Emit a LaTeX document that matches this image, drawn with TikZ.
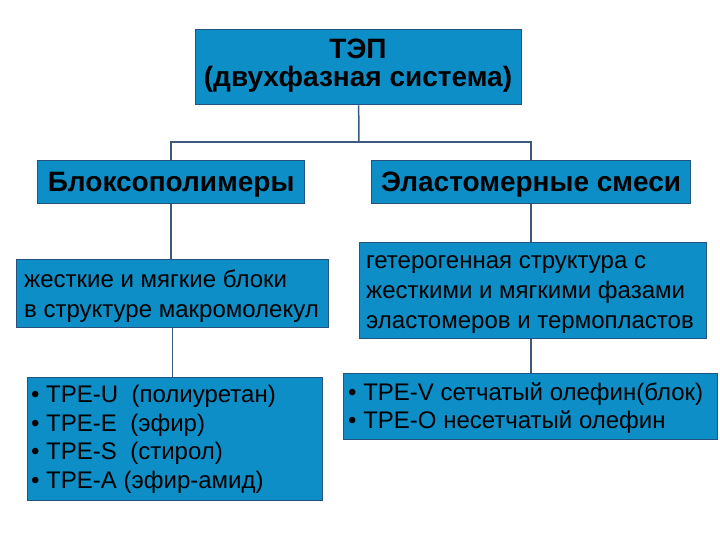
\documentclass[tikz,border=0pt]{standalone}
\usepackage{fontspec}
\setmainfont{Liberation Sans}
\definecolor{boxfill}{RGB}{14,142,198}
\definecolor{boxline}{RGB}{38,82,128}
\definecolor{conn}{RGB}{60,90,125}
\begin{document}
\begin{tikzpicture}[x=1pt,y=-1pt,
  box/.style={draw=boxline,line width=1.3pt,fill=boxfill,anchor=north west,inner sep=0pt},
  head/.style={inner sep=0pt,anchor=base,text=black,font=\bfseries\fontsize{28}{28}\selectfont,align=center},
  body/.style={inner sep=0pt,anchor=base west,text=black,align=left,font=\fontsize{24}{#1}\selectfont},
  conline/.style={draw=conn,line width=1.5pt}]
\useasboundingbox (0,0) rectangle (720,540);
% boxes
\node[box,minimum width=326,minimum height=75] (top) at (195,29) {};
\node[box,minimum width=267,minimum height=43] (bl) at (37,160) {};
\node[box,minimum width=319,minimum height=43] (el) at (371,160) {};
\node[box,minimum width=312,minimum height=68] (bl2) at (16,259) {};
\node[box,minimum width=347,minimum height=96] (el2) at (359,242) {};
\node[box,minimum width=295,minimum height=123] (bl3) at (27,377) {};
\node[box,minimum width=374,minimum height=66] (el3) at (343,373) {};
% texts (anchor base = baseline of the last line)
\node[head] (topt) at (358,87) {ТЭП\\(двухфазная система)};
\node[head] (blt) at (bl.center |- 0,192) {Блоксополимеры};
\node[head] (elt) at (el.center |- 0,192) {Эластомерные смеси};
\node[body=30] (bl2t) at (24,317) {жесткие и мягкие блоки\\в структуре макромолекул};
\node[body=30] (el2t) at (366,328) {гетерогенная структура с\\жесткими и мягкими фазами\\эластомеров и термопластов};
\node[body=28.4] (bl3t) at (31,488) {• TPE-U\ \ (полиуретан)\\• TPE-E\ \ (эфир)\\• TPE-S\ \ (стирол)\\• TPE-A (эфир-амид)};
\node[body=28] (el3t) at (348,428) {• TPE-V сетчатый олефин(блок)\\• TPE-O несетчатый олефин};
% connectors
\coordinate (j) at (359,142);
\draw[conline] (top.south) -- (j);
\draw[conline] (j) -| (bl.north);
\draw[conline] (j) -| (el.north);
\draw[conline] (bl.south) -- (bl.south |- bl2.north);
\draw[conline] (bl2.south) -- (bl2.south |- bl3.north);
\draw[conline] (el.south) -- (el.south |- el2.north);
\draw[conline] (el.south |- el2.south) -- (el.south |- el3.north);
\end{tikzpicture}
\end{document}
